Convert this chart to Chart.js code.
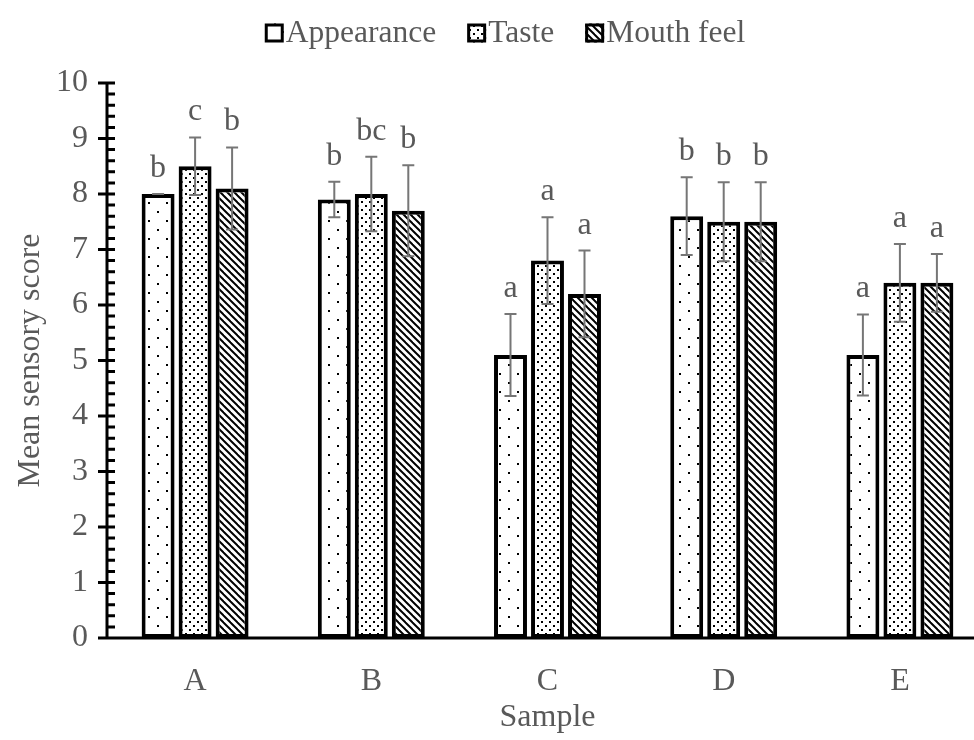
<!DOCTYPE html>
<html>
<head>
<meta charset="utf-8">
<script src="https://cdn.jsdelivr.net/npm/chart.js@4"></script>
<style>
  html, body { margin: 0; padding: 0; background: #fff; overflow: hidden; }
  #wrap { width: 974px; height: 740px; overflow: hidden; }
</style>
</head>
<body>
<div id="wrap"><canvas id="sensoryChart" width="988" height="740"></canvas></div>
<script>
const samples = ['A', 'B', 'C', 'D', 'E'];
const seriesNames = ['Appearance', 'Taste', 'Mouth feel'];

const appearance = [8.0, 7.9, 5.1, 7.6, 5.1];
const taste = [8.5, 8.0, 6.8, 7.5, 6.4];
const mouthFeel = [8.1, 7.7, 6.2, 7.5, 6.4];

const appearanceErr = [0.0, 0.32, 0.74, 0.70, 0.73];
const tasteErr = [0.52, 0.67, 0.78, 0.71, 0.70];
const mouthFeelErr = [0.74, 0.82, 0.78, 0.71, 0.52];

const appearanceLetters = ['b', 'b', 'a', 'b', 'a'];
const tasteLetters = ['c', 'bc', 'a', 'b', 'a'];
const mouthFeelLetters = ['b', 'b', 'a', 'b', 'a'];

const Y_MIN = 0;
const Y_MAX = 10;

const FONT = 'Liberation Serif';
const TEXT_COLOR = '#595959';

function makePattern(kind) {
    const c = document.createElement('canvas');
    const ctx = c.getContext('2d');
    if (kind === 'sparse') {
        c.width = 18; c.height = 18;
        ctx.fillStyle = '#fff';
        ctx.fillRect(0, 0, 18, 18);
        ctx.fillStyle = '#000';
        ctx.fillRect(4, 4, 2, 2);
        ctx.fillRect(13, 13, 2, 2);
    } else if (kind === 'dense') {
        c.width = 8; c.height = 8;
        ctx.fillStyle = '#fff';
        ctx.fillRect(0, 0, 8, 8);
        ctx.fillStyle = '#000';
        ctx.fillRect(1, 1, 2, 2);
        ctx.fillRect(5, 5, 2, 2);
    } else {
        const s = 7;
        c.width = s; c.height = s;
        ctx.fillStyle = '#fff';
        ctx.fillRect(0, 0, s, s);
        ctx.strokeStyle = '#000';
        ctx.lineWidth = 2;
        [-s, 0, s].forEach(function (o) {
            ctx.beginPath();
            ctx.moveTo(o - 1, -1);
            ctx.lineTo(o + s + 1, s + 1);
            ctx.stroke();
        });
    }
    return ctx.createPattern(c, 'repeat');
}

const fills = [makePattern('sparse'), makePattern('dense'), makePattern('diag')];
const errors = [appearanceErr, tasteErr, mouthFeelErr];
const letters = [appearanceLetters, tasteLetters, mouthFeelLetters];

// axes, ticks, error bars, letters and legend drawn on top of the bars
const decorPlugin = {
    id: 'decor',
    afterDatasetsDraw(chart) {
        const ctx = chart.ctx;
        const area = chart.chartArea;
        const y = chart.scales.y;

        // error bars + significance letters
        chart.data.datasets.forEach(function (ds, di) {
            const meta = chart.getDatasetMeta(di);
            meta.data.forEach(function (bar, i) {
                const v = ds.data[i];
                const e = errors[di][i];
                const top = y.getPixelForValue(v + e);
                const bot = y.getPixelForValue(v - e);
                ctx.save();
                ctx.strokeStyle = '#767676';
                ctx.lineWidth = 2;
                ctx.beginPath();
                ctx.moveTo(bar.x, top);
                ctx.lineTo(bar.x, bot);
                ctx.moveTo(bar.x - 6, top);
                ctx.lineTo(bar.x + 6, top);
                ctx.moveTo(bar.x - 6, bot);
                ctx.lineTo(bar.x + 6, bot);
                ctx.stroke();
                ctx.fillStyle = TEXT_COLOR;
                ctx.font = '32px "' + FONT + '"';
                ctx.textAlign = 'center';
                ctx.textBaseline = 'alphabetic';
                ctx.fillText(letters[di][i], bar.x, top - 17);
                ctx.restore();
            });
        });

        // axis lines and tick marks
        ctx.save();
        ctx.strokeStyle = '#000';
        ctx.lineWidth = 3;
        ctx.beginPath();
        ctx.moveTo(area.left, area.top);
        ctx.lineTo(area.left, area.bottom);
        ctx.moveTo(area.left - 1, area.bottom);
        ctx.lineTo(chart.width, area.bottom);
        for (let k = Y_MIN * 5; k <= Y_MAX * 5; k++) {
            const py = y.getPixelForValue(k / 5);
            const major = k % 5 === 0;
            ctx.moveTo(major ? area.left - 9 : area.left, py);
            ctx.lineTo(area.left + 8, py);
        }
        ctx.stroke();
        ctx.restore();

        // legend
        ctx.save();
        ctx.font = '31.5px "' + FONT + '"';
        const box = 19, gapBox = 2, gapItem = 31;
        const widths = seriesNames.map(function (n) { return box + gapBox + ctx.measureText(n).width; });
        const total = widths.reduce(function (a, b) { return a + b; }, 0) + gapItem * (seriesNames.length - 1);
        let lx = 505 - total / 2;
        const ly = 33;
        seriesNames.forEach(function (n, i) {
            ctx.fillStyle = fills[i];
            ctx.fillRect(lx, ly - box / 2, box, box);
            ctx.strokeStyle = '#000';
            ctx.lineWidth = 3;
            ctx.strokeRect(lx + 1.5, ly - box / 2 + 1.5, box - 3, box - 3);
            ctx.fillStyle = TEXT_COLOR;
            ctx.textAlign = 'left';
            ctx.textBaseline = 'middle';
            ctx.fillText(n, lx + box + gapBox, ly + 1);
            lx += widths[i] + gapItem;
        });
        ctx.restore();
    }
};

const values = [appearance, taste, mouthFeel];

new Chart(document.getElementById('sensoryChart').getContext('2d'), {
    type: 'bar',
    data: {
        labels: samples,
        datasets: seriesNames.map(function (name, i) {
            return {
                label: name,
                data: values[i],
                backgroundColor: fills[i],
                borderColor: '#000',
                borderWidth: 4,
                borderSkipped: false,
                categoryPercentage: 0.63,
                barPercentage: 0.89,
            };
        }),
    },
    options: {
        responsive: false,
        animation: false,
        layout: { padding: { top: 83, left: 0, right: 0, bottom: 0 } },
        plugins: {
            legend: { display: false },
            tooltip: { enabled: false },
        },
        scales: {
            x: {
                grid: { display: false },
                border: { display: false },
                ticks: { color: TEXT_COLOR, font: { family: FONT, size: 32 }, padding: 16 },
                title: {
                    display: true,
                    text: 'Sample',
                    color: TEXT_COLOR,
                    font: { family: FONT, size: 32 },
                    padding: { top: 0, bottom: 3 },
                },
                afterFit: function (scale) { scale.height = 102; },
            },
            y: {
                min: Y_MIN,
                max: Y_MAX,
                grid: { display: false },
                border: { display: false },
                ticks: { stepSize: 1, color: TEXT_COLOR, font: { family: FONT, size: 32 }, padding: 11 },
                title: {
                    display: true,
                    text: 'Mean sensory score',
                    color: TEXT_COLOR,
                    font: { family: FONT, size: 32 },
                    padding: { top: 11, bottom: 0 },
                },
                afterFit: function (scale) { scale.width = 107; },
            },
        },
    },
    plugins: [decorPlugin],
});
</script>
</body>
</html>
